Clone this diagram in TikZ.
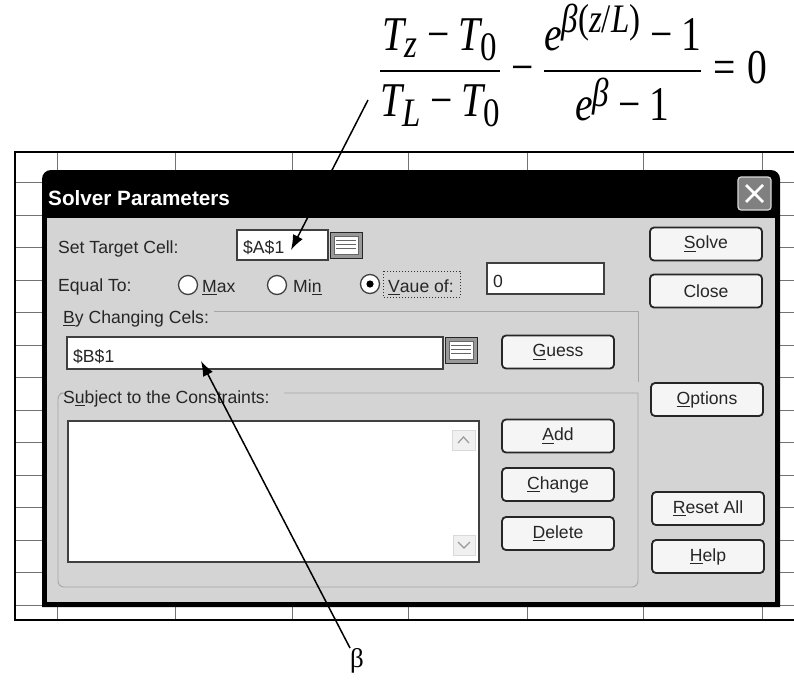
\documentclass[tikz,border=0pt]{standalone}
\usepackage{amsmath}
\usepackage[no-math]{fontspec}
\setmainfont{Liberation Sans}
\newfontfamily\serifb{Liberation Serif}
\newcommand\ti[1]{\text{\serifb\itshape #1}}
\newcommand\tr[1]{\text{\serifb #1}}
\newcommand\mminus{\mathbin{\tr{−}}}
\newcommand\meq{\mathrel{\tr{=}}}
\usetikzlibrary{arrows.meta}
\begin{document}
\begin{tikzpicture}[x=1pt,y=-1pt,
  lbl/.style={anchor=base west,inner sep=0pt,font=\fontsize{17.6}{20}\selectfont,text=black!85},
  btn/.style={draw=black!85,line width=1.8pt,rounded corners=4pt,fill=black!4,
     minimum width=112pt,minimum height=33pt,inner sep=0pt,
     font=\fontsize{17.6}{20}\selectfont,text=black!85},
  field/.style={draw=black!75,line width=1.2pt,fill=white},
  gridline/.style={draw=black!55,line width=0.8pt},
  groupline/.style={draw=black!35,line width=0.9pt},
  radio/.style={draw=black!75,line width=1.3pt,fill=white},
  pointer/.style={line width=1.5pt,-{Latex[length=15pt,width=11pt]}},
  refbtn/.style={draw=black!85,line width=1pt,fill=black!40},
]
\useasboundingbox (0,0) rectangle (794,683);
\fill[white] (0,0) rectangle (794,683);

% spreadsheet grid
\foreach \gx in {57,175,292,408,527,643,762} \draw[gridline] (\gx,152) -- (\gx,620);
\foreach \gy in {182,215,247,280,312,345,377,410,442,475,507,540,572,605} \draw[gridline] (15,\gy) -- (794,\gy);
\draw[line width=1.3pt] (794,152) -- (15,152) -- (15,620) -- (794,620);

% dialog frame
\fill[black] (42,607) -- (42,180) [rounded corners=9pt] -- (42,170) -- (780,170) [sharp corners] -- (780,607) -- cycle;
\fill[black!17] (47,218) rectangle (775,602);

% title
\node[anchor=base west,inner sep=0pt,text=white,font=\bfseries\fontsize{20.7}{23}\selectfont] (title) at (48,205) {Solver Parameters};
\draw[fill=black!50,draw=white!85!black,line width=1.2pt,rounded corners=3pt] (738,177) rectangle (771,210);
\draw[white,line width=2.6pt] (746,185) -- (763,202) (763,185) -- (746,202);

% group boxes
\draw[groupline] (214,311) -- (638,311) -- (638,382);
\draw[groupline] (284,393) -- (638,393) [rounded corners=6pt] -- (638,587) -- (58,587) -- (58,393) -- (60,393);

% row 1
\node[lbl] (settarget) at (58,253) {Set Target Cell:};
\draw[field] (237,230) rectangle (328,260);
\node[lbl] (targettext) at (243,253) {\$A\$1};
\coordinate (tgt) at (291,250);
\draw[refbtn] (330,232) rectangle (362,258);
\draw[fill=white,draw=black!60] (334,236) rectangle (358,254);
\foreach \ly in {240,244,248} \draw[black!60,line width=0.8pt] (336,\ly) -- (356,\ly);

% row 2
\node[lbl] (equalto) at (58,291) {Equal To:};
\draw[radio] (188,285) circle (9.5pt);
\node[lbl] (max) at (202,292) {\underline{M}ax};
\draw[radio] (277,285) circle (9.5pt);
\node[lbl] (min) at (293,292) {Mi\underline{n}};
\draw[radio] (370,284) circle (9.5pt);
\fill[black] (370,284) circle (3.6pt);
\node[lbl] (valueof) at (388,292) {\underline{V}aue of:};
\draw[black!80,dotted,line width=1pt] (383,271) rectangle (460,297);
\draw[field] (487,263) rectangle (604,294);
\node[lbl] (zero) at (493,287) {0};

% changing cells
\node[lbl] (bycells) at (63,323) {\underline{B}y Changing Cels:};
\draw[field] (67,337) rectangle (443,369);
\node[lbl] (bvalue) at (73,362) {\$B\$1};
\coordinate (bcell) at (201,361);
\draw[refbtn] (445,337) rectangle (477,363);
\draw[fill=white,draw=black!60] (449,341) rectangle (473,359);
\foreach \ly in {345,349,353} \draw[black!60,line width=0.8pt] (451,\ly) -- (471,\ly);

% constraints
\node[lbl] (subject) at (63,403) {S\underline{u}bject to the Constraints:};
\draw[field] (68,421) rectangle (479,562);
\draw[fill=black!6,draw=black!15] (452,430) rectangle (475,450);
\draw[black!40,line width=1.2pt] (458,443) -- (463.5,437) -- (469,443);
\draw[fill=black!6,draw=black!15] (453,535) rectangle (475,555);
\draw[black!40,line width=1.2pt] (458,542) -- (464,548) -- (470,542);

% buttons
\node[btn] (guess) at (558,352) {\underline{G}uess};
\node[btn] (add) at (558,436) {\underline{A}dd};
\node[btn] (change) at (558,484.5) {\underline{C}hange};
\node[btn] (delete) at (558,533.5) {\underline{D}elete};
\node[btn] (solve) at (706,244) {\underline{S}olve};
\node[btn] (close) at (706,291) {Close};
\node[btn] (options) at (707,399.5) {\underline{O}ptions};
\node[btn] (reset) at (708,508.5) {\underline{R}eset All};
\node[btn] (help) at (708,556.5) {\underline{H}elp};

% equation
\node[anchor=north west,inner sep=0pt] (eq) at (378,4)
  {\scalebox{1.59}[1.95]{\fontsize{24.88}{30}\selectfont $\displaystyle
   \frac{\ti{T}_{\ti{z}}\mminus\ti{T}_{\tr{0}}}{\ti{T}_{\ti{L}}\mminus\ti{T}_{\tr{0}}}
   \mminus\frac{\ti{e}^{\ti{β}\tr{(}\ti{z}\tr{/}\ti{L}\tr{)}}\mminus\tr{1}}{\ti{e}^{\ti{β}}\mminus\tr{1}}\meq\tr{0}$}};
\coordinate (eqfoot) at (368,100);
\draw[pointer] (eqfoot) -- (tgt);

% beta label
\node[anchor=north west,inner sep=0pt,font=\serifb\fontsize{27}{30}\selectfont] (beta) at (350,648) {β};
\draw[pointer] (beta.north west) -- (bcell);
\end{tikzpicture}
\end{document}
